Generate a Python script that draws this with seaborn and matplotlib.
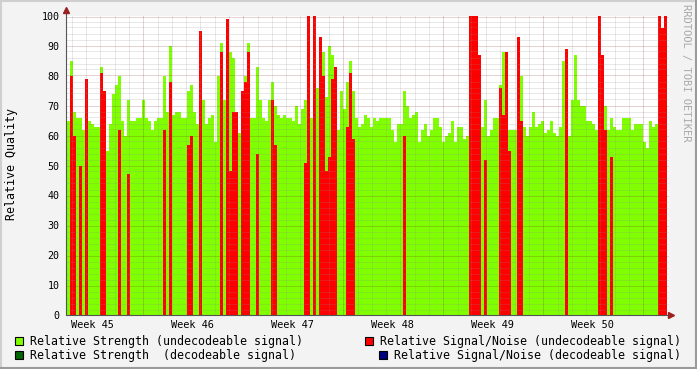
import numpy as np
import pandas as pd
import matplotlib
matplotlib.use("Agg")
import matplotlib.pyplot as plt
import seaborn as sns
from matplotlib.patches import Rectangle
from matplotlib.lines import Line2D

# ---------------- data (one value per 3-px time slot, 200 slots = 6 weeks) -------------
strength_undecodeable = [
    65, 85, 68, 66, 66, 62, 66, 65, 64, 63, 63, 83, 72, 55, 64, 74, 77, 80, 65, 60,
    72, 65, 65, 66, 66, 72, 66, 65, 62, 65, 66, 66, 80, 68, 90, 67, 68, 68, 66, 66,
    75, 77, 68, 64, 89, 72, 64, 66, 67, 58, 80, 91, 72, 80, 88, 86, 64, 61, 62, 80,
    91, 66, 66, 83, 72, 66, 65, 72, 78, 70, 67, 66, 67, 66, 66, 65, 70, 64, 69, 72,
    90, 66, 66, 76, 91, 88, 73, 90, 87, 68, 62, 75, 69, 78, 85, 75, 66, 63, 64, 67,
    66, 63, 66, 65, 66, 66, 66, 66, 62, 58, 64, 64, 75, 70, 66, 67, 68, 58, 62, 64,
    60, 62, 66, 66, 63, 58, 60, 61, 65, 58, 63, 63, 59, 60, 50, 66, 66, 68, 63, 72,
    60, 62, 66, 66, 77, 88, 68, 62, 62, 62, 75, 80, 63, 60, 63, 68, 63, 64, 65, 61,
    62, 65, 61, 60, 63, 85, 84, 60, 72, 87, 72, 70, 70, 65, 65, 64, 62, 60, 74, 70,
    62, 66, 63, 62, 62, 66, 66, 66, 62, 64, 64, 64, 58, 56, 65, 63, 64, 90, 86, 85,
]
snr_undecodeable = [
    0, 80, 60, 0, 50, 0, 79, 0, 0, 0, 0, 81, 75, 0, 0, 0, 0, 62, 0, 0,
    47, 0, 0, 0, 0, 0, 0, 0, 0, 0, 0, 0, 62, 0, 78, 0, 0, 0, 0, 0,
    57, 60, 0, 0, 95, 0, 0, 0, 0, 0, 0, 88, 0, 99, 48, 68, 68, 0, 75, 78,
    88, 0, 0, 54, 0, 0, 0, 0, 72, 57, 0, 0, 0, 0, 0, 0, 0, 0, 0, 51,
    100, 0, 100, 0, 93, 80, 48, 53, 79, 83, 0, 0, 0, 63, 81, 59, 0, 0, 0, 0,
    0, 0, 0, 0, 0, 0, 0, 0, 0, 0, 0, 0, 60, 0, 0, 0, 0, 0, 0, 0,
    0, 0, 0, 0, 0, 0, 0, 0, 0, 0, 0, 0, 0, 0, 100, 100, 100, 87, 0, 52,
    0, 0, 0, 0, 76, 67, 88, 55, 0, 0, 93, 65, 0, 0, 0, 0, 0, 0, 0, 0,
    0, 0, 0, 0, 0, 0, 89, 0, 0, 0, 0, 0, 0, 0, 0, 0, 0, 100, 87, 62,
    0, 53, 0, 0, 0, 0, 0, 0, 0, 0, 0, 0, 0, 0, 0, 0, 0, 100, 96, 100,
]
week_labels = ["Week 45", "Week 46", "Week 47", "Week 48", "Week 49", "Week 50"]
y_ticks = [0, 10, 20, 30, 40, 50, 60, 70, 80, 90, 100]
legend_labels = [
    "Relative Strength (undecodeable signal)",
    "Relative Strength  (decodeable signal)",
    "Relative Signal/Noise (undecodeable signal)",
    "Relative Signal/Noise (decodeable signal)",
]
legend_colors = ["#7fff00", "#006400", "#ff0000", "#000080"]

# ---------------- style ----------------
sns.set_style("white")
plt.rcParams['font.family'] = ['DejaVu Sans Mono']

W, H = 697, 369
fig = plt.figure(figsize=(W / 100, H / 100), dpi=100)
fig.patch.set_facecolor('#f3f3f3')

def fx(px):
    return px / W

def fy(py):
    return 1 - py / H

AX_L, AX_B, AX_W, AX_H = 66, 315, 603, 299
ax = fig.add_axes([fx(AX_L), fy(AX_B), AX_W / W, AX_H / H])
ax.set_facecolor('white')

n = len(strength_undecodeable)
df = pd.DataFrame({
    'slot': np.arange(n),
    'strength': strength_undecodeable,
    'snr': snr_undecodeable,
})

sns.barplot(data=df, x='slot', y='strength', native_scale=True, orient='x',
            width=1.0, color='#7fff00', saturation=1, linewidth=0,
            errorbar=None, ax=ax, zorder=1)
sns.barplot(data=df, x='slot', y='snr', native_scale=True, orient='x',
            width=1.0, color='#ff0000', saturation=1, linewidth=0,
            errorbar=None, ax=ax, zorder=2)

xmin = -0.5 - 1 / 3
xmax = xmin + AX_W / 3
ax.set_xlim(xmin, xmax)
ax.set_ylim(0, 100)

# pixel-snapping helpers so the 1-px dotted grid lands exactly on pixel rows/cols
def snap_y(v):
    ytop = AX_B - v * AX_H / 100.0
    ys = np.floor(ytop) + 0.5
    return (AX_B - ys) * 100.0 / AX_H

def snap_x(xv):
    px = AX_L + (xv - xmin) * 3
    ps = np.floor(px) + 0.5
    return (ps - AX_L) / 3 + xmin

# grid (drawn over the data, as rrdtool does)
minor_c = (0.55, 0.55, 0.55, 0.40)
major_c = (0.51, 0.12, 0.12, 0.40)
dot = (0, (1, 1))
gkw = dict(lw=0.72, ls=dot, zorder=3)
for v in range(2, 101, 2):
    if v % 10:
        ax.axhline(snap_y(v), color=minor_c, **gkw)
for v in range(10, 101, 10):
    ax.axhline(snap_y(v), color=major_c, **gkw)

day_w = 100 / 7 / 3
day0 = (71.3 - 66) / 3 + xmin
day_pos = [day0 + k * day_w for k in range(42)]
for k, d in enumerate(day_pos):
    if k % 7 == 5:
        ax.axvline(snap_x(d), color=major_c, **gkw)
    else:
        ax.axvline(snap_x(d), color=minor_c, **gkw)

for s in ax.spines.values():
    s.set_visible(False)

# axes lines + arrows
axis_c = '#555555'
arrow_c = '#9b2020'
ax.add_line(Line2D([xmin, xmin], [0, 102.5], color=axis_c, lw=0.8, clip_on=False, zorder=5))
ax.add_line(Line2D([xmin, xmax], [0, 0], color=axis_c, lw=0.8, clip_on=False, zorder=5))
ax.plot([xmin], [101.9], marker='^', ms=4, color=arrow_c, clip_on=False, zorder=6)
ax.plot([xmin + (670.5 - 66) / 3], [0], marker='>', ms=4, color=arrow_c, clip_on=False, zorder=6)

# ticks
ax.set_yticks(y_ticks)
ax.set_yticklabels([str(v) for v in y_ticks])
ax.tick_params(axis='y', which='major', length=2, width=0.7, color='#999999',
               pad=2.5, labelsize=7.2, labelcolor='black')
label_pos = [day0 + (1.5 + 7 * j) * day_w for j in range(len(week_labels))]
ax.set_xticks(label_pos)
ax.set_xticklabels(week_labels)
ax.set_xticks(day_pos, minor=True)
ax.tick_params(axis='x', which='major', length=0, pad=3.5, labelsize=7.4, labelcolor='black')
ax.tick_params(axis='x', which='minor', length=2, width=0.7, color='#bbbbbb')
ax.set_xlabel('')
ax.set_ylabel('')

# y label
fig.text(fx(12), fy(164), "Relative Quality", rotation=90, ha='center', va='center',
         fontsize=8.4, color='black')

# watermark
fig.text(fx(686), fy(4), "RRDTOOL / TOBI OETIKER", rotation=270, ha='center', va='top',
         fontsize=7.5, color='#a9a9a9')

# legend
leg_layout = [
    (15, 337, 30, 345.2),
    (15, 351, 30, 359.0),
    (365, 337, 380, 345.2),
    (379, 351, 394, 359.0),
]
for (sx, sy, tx, ty), lab, col in zip(leg_layout, legend_labels, legend_colors):
    fig.patches.append(Rectangle((fx(sx), fy(sy + 8)), 8 / W, 8 / H, transform=fig.transFigure,
                                 facecolor=col, edgecolor='black', lw=0.8))
    fig.text(fx(tx), fy(ty), lab, ha='left', va='baseline', fontsize=8.4, color='black')

# 3-D style frame around the image
fig.lines.append(Line2D([0, 1], [fy(0.5), fy(0.5)], transform=fig.transFigure, color='#cfcfcf', lw=1.5))
fig.lines.append(Line2D([fx(0.5), fx(0.5)], [0, 1], transform=fig.transFigure, color='#cfcfcf', lw=1.5))
fig.lines.append(Line2D([0, 1], [fy(368), fy(368)], transform=fig.transFigure, color='#9a9a9a', lw=1.5))
fig.lines.append(Line2D([fx(696), fx(696)], [0, 1], transform=fig.transFigure, color='#9a9a9a', lw=1.5))

fig.savefig('out.png', dpi=100, facecolor=fig.get_facecolor())
